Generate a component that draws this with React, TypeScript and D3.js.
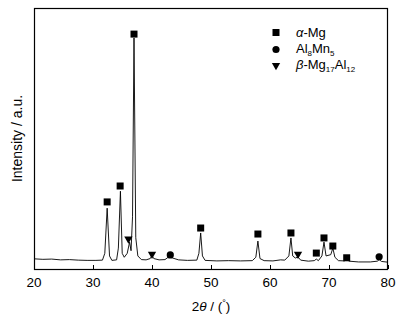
import React, { useRef, useEffect } from "react";
import * as d3 from "d3";

// XRD pattern: 2-theta (deg) and intensity (a.u., 0-100 of axis height)
const twoTheta = [
  20.0, 21.5, 23.0, 24.5, 26.0, 27.5, 29.0, 30.5, 31.6, 32.0, 32.4, 32.8, 33.2, 34.0, 34.3, 34.65,
  34.95, 35.3, 35.8, 36.2, 36.45, 36.7, 36.95, 37.25, 37.6, 38.2, 39.0, 39.7, 40.0, 40.3, 41.2,
  42.2, 42.8, 43.1, 43.5, 44.5, 46.0, 47.6, 47.95, 48.25, 48.55, 49.0, 51.0, 53.0, 55.0, 57.0,
  57.6, 57.95, 58.3, 59.0, 60.5, 61.8, 62.5, 63.2, 63.55, 63.85, 64.3, 64.75, 65.2, 66.5, 67.5,
  67.85, 68.2, 68.8, 69.15, 69.5, 70.3, 70.65, 71.0, 71.6, 72.6, 73.0, 73.4, 75.0, 77.0, 78.2,
  78.5, 78.9, 80.0,
];
const intensity = [
  3.9, 3.7, 3.8, 3.5, 3.6, 3.4, 3.3, 3.3, 3.4, 6.0, 23.3, 5.0, 3.3, 3.5, 8.0, 29.8,
  6.0, 4.5, 6.0, 10.3, 7.0, 20.0, 88.5, 12.0, 5.0, 3.6, 3.5, 4.0, 5.2, 4.0, 3.5,
  3.6, 4.6, 5.1, 4.2, 3.5, 3.3, 3.4, 6.0, 13.8, 5.0, 3.3, 3.1, 3.2, 3.1, 3.2,
  4.5, 10.7, 4.0, 3.2, 3.1, 3.5, 3.4, 5.0, 11.9, 5.0, 4.2, 4.6, 3.4, 3.0, 3.2,
  3.8, 3.2, 5.0, 10.3, 5.0, 5.5, 8.0, 4.5, 3.2, 3.1, 3.8, 3.0, 2.7, 2.7, 3.0,
  3.6, 2.9, 2.6,
];

// phase markers: position (deg) and height (a.u.)
const alphaMgPos = [32.4, 34.6, 36.95, 48.25, 57.95, 63.55, 67.85, 69.15, 70.65, 73.0];
const alphaMgY = [25.7, 31.8, 90.0, 15.7, 13.4, 13.8, 6.1, 11.9, 8.8, 4.3];
const al8mn5Pos = [43.1, 78.5];
const al8mn5Y = [5.4, 4.7];
const betaPos = [36.0, 40.0, 64.75];
const betaY = [11.5, 5.7, 5.7];

const xTicks = [20, 30, 40, 50, 60, 70, 80];

const App = () => {
  const svgRef = useRef<SVGSVGElement>(null);

  useEffect(() => {
    const width = 408;
    const height = 322;
    const left = 34;
    const right = 388;
    const top = 8;
    const bottom = 269;

    const svg = d3.select(svgRef.current).attr("width", width).attr("height", height);
    svg.selectAll("*").remove();

    const x = d3.scaleLinear().domain([20, 80]).range([left, right]);
    const y = d3.scaleLinear().domain([0, 100]).range([bottom, top]);
    const font = "Arial, 'Liberation Sans', sans-serif";

    // pattern
    const pts = twoTheta.map((t, i) => [t, intensity[i]] as [number, number]);
    const line = d3
      .line<[number, number]>()
      .x((d) => x(d[0]))
      .y((d) => y(d[1]));
    svg
      .append("path")
      .attr("d", line(pts))
      .attr("fill", "none")
      .attr("stroke", "#000")
      .attr("stroke-width", 0.9)
      .attr("stroke-linejoin", "round");

    // frame
    svg
      .append("rect")
      .attr("x", left + 0.5)
      .attr("y", top + 0.5)
      .attr("width", right - left - 1)
      .attr("height", bottom - top)
      .attr("fill", "none")
      .attr("stroke", "#000")
      .attr("stroke-width", 1.2);

    // ticks (inward) and labels
    const ax = svg.append("g");
    xTicks.forEach((t) => {
      ax.append("line")
        .attr("x1", Math.round(x(t)) + 0.5)
        .attr("x2", Math.round(x(t)) + 0.5)
        .attr("y1", bottom)
        .attr("y2", bottom - 4)
        .attr("stroke", "#000");
      ax.append("text")
        .attr("x", x(t))
        .attr("y", bottom + 18)
        .attr("text-anchor", "middle")
        .attr("font-family", font)
        .attr("font-size", 13.5)
        .text(t);
    });

    // x title
    const xt = svg
      .append("text")
      .attr("x", (left + right) / 2)
      .attr("y", 311)
      .attr("text-anchor", "middle")
      .attr("font-family", font)
      .attr("font-size", 13.5);
    xt.append("tspan").text("2");
    xt.append("tspan").attr("font-style", "italic").text("θ");
    xt.append("tspan").text(" / (");
    xt.append("tspan").attr("font-size", 9).attr("dy", -5).text("°");
    xt.append("tspan").attr("dy", 5).text(")");

    // y title
    svg
      .append("text")
      .attr("transform", `translate(22,${(top + bottom) / 2}) rotate(-90)`)
      .attr("text-anchor", "middle")
      .attr("font-family", font)
      .attr("font-size", 14)
      .text("Intensity / a.u.");

    // markers
    const sq = 7;
    alphaMgPos.forEach((p, i) => {
      svg.append("rect")
        .attr("x", x(p) - sq / 2)
        .attr("y", y(alphaMgY[i]) - sq / 2)
        .attr("width", sq)
        .attr("height", sq)
        .attr("fill", "#000");
    });
    al8mn5Pos.forEach((p, i) => {
      svg.append("circle")
        .attr("cx", x(p))
        .attr("cy", y(al8mn5Y[i]))
        .attr("r", 3.6)
        .attr("fill", "#000");
    });
    const tri = d3.symbol().type(d3.symbolTriangle).size(30);
    betaPos.forEach((p, i) => {
      svg.append("path")
        .attr("d", tri())
        .attr("transform", `translate(${x(p)},${y(betaY[i])}) rotate(180)`)
        .attr("fill", "#000");
    });

    // legend
    const lg = svg.append("g").attr("font-family", font).attr("font-size", 13);
    lg.append("rect").attr("x", 272.5).attr("y", 29).attr("width", sq).attr("height", sq);
    lg.append("circle").attr("cx", 276).attr("cy", 49.5).attr("r", 3.6);
    lg.append("path").attr("d", tri()).attr("transform", "translate(276,65.5) rotate(180)");

    const t1 = lg.append("text").attr("x", 296).attr("y", 37);
    t1.append("tspan").attr("font-style", "italic").text("α");
    t1.append("tspan").text("-Mg");

    const t2 = lg.append("text").attr("x", 296).attr("y", 53);
    t2.append("tspan").text("Al");
    t2.append("tspan").attr("font-size", 8).attr("dy", 3).text("8");
    t2.append("tspan").attr("dy", -3).text("Mn");
    t2.append("tspan").attr("font-size", 8).attr("dy", 3).text("5");

    const t3 = lg.append("text").attr("x", 296).attr("y", 69);
    t3.append("tspan").attr("font-style", "italic").text("β");
    t3.append("tspan").text("-Mg");
    t3.append("tspan").attr("font-size", 8).attr("dy", 3).text("17");
    t3.append("tspan").attr("dy", -3).text("Al");
    t3.append("tspan").attr("font-size", 8).attr("dy", 3).text("12");
  }, []);

  return (
    <div style={{ position: "absolute", left: 0, top: 0 }}>
      <svg ref={svgRef} style={{ display: "block" }}></svg>
    </div>
  );
};

export default App;
